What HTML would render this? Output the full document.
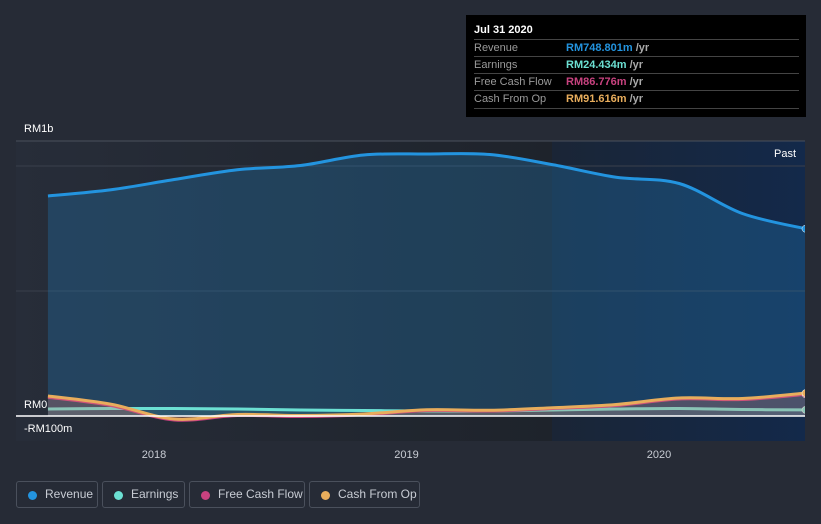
<!DOCTYPE html>
<html><head><meta charset="utf-8">
<style>
body{margin:0;background:#262b36;font-family:"Liberation Sans",sans-serif;}
#wrap{position:relative;width:821px;height:524px;overflow:hidden;background:#262b36;}
.lg{position:absolute;top:481px;height:27px;border:1px solid #4a505c;border-radius:3px;box-sizing:border-box;color:#c8ccd4;font-size:12px;line-height:25px;padding-left:28px;white-space:nowrap;}
.lg i{position:absolute;left:11px;top:9px;width:9px;height:9px;border-radius:50%;}
#tip{position:absolute;left:466px;top:15px;width:340px;height:102px;background:#000;color:#fff;font-size:11px;}
#tip .r{position:absolute;left:8px;width:325px;height:17px;border-top:1px solid #444;line-height:17px;color:#9a9a9a;}
#tip .r b{position:absolute;left:92px;font-weight:bold;}
#tip .r span{color:#aaa;}
</style></head><body>
<div id="wrap">
<svg id="svg" width="821" height="524" style="position:absolute;left:0;top:0">
<defs>
<linearGradient id="bgL" x1="0" x2="1" y1="0" y2="0"><stop offset="0" stop-color="#272d39"/><stop offset="1" stop-color="#1e232b"/></linearGradient>
<linearGradient id="bgR" x1="0" x2="1" y1="0" y2="0"><stop offset="0" stop-color="#1a2536"/><stop offset="1" stop-color="#13294a"/></linearGradient>
<clipPath id="clip"><rect x="16" y="130" width="789" height="320"/></clipPath>
</defs>
<rect x="16" y="141" width="536" height="300" fill="url(#bgL)"/>
<rect x="552" y="141" width="253" height="300" fill="url(#bgR)"/>
<g id="grid"></g><g id="series" clip-path="url(#clip)"></g>
<text x="774" y="157" fill="#fff" font-size="11">Past</text>
</svg>
<div id="tip">
<div style="position:absolute;left:8px;top:9px;font-weight:bold;font-size:11px">Jul 31 2020</div>
<div class="r" style="top:24px">Revenue<b style="color:#2394df">RM748.801m <span>/yr</span></b></div>
<div class="r" style="top:41px">Earnings<b style="color:#6ce0d3">RM24.434m <span>/yr</span></b></div>
<div class="r" style="top:58px">Free Cash Flow<b style="color:#c8427f">RM86.776m <span>/yr</span></b></div>
<div class="r" style="top:75px;border-bottom:1px solid #444">Cash From Op<b style="color:#e8ad5c">RM91.616m <span>/yr</span></b></div>
</div>
<div class="lg" style="left:16px;width:82px"><i style="background:#2394df"></i>Revenue</div>
<div class="lg" style="left:102px;width:83px"><i style="background:#6ce0d3"></i>Earnings</div>
<div class="lg" style="left:189px;width:116px"><i style="background:#c8427f"></i>Free Cash Flow</div>
<div class="lg" style="left:309px;width:111px"><i style="background:#e8ad5c"></i>Cash From Op</div>
</div>
<script>
const dates=[2017.58,2017.83,2018.08,2018.33,2018.58,2018.83,2019.08,2019.33,2019.58,2019.83,2020.08,2020.33,2020.58];
const revenue=[880,905,946,985,1002,1044,1048,1046,1005,955,930,810,749];
const earnings=[28,30,30,28,24,22,20,20,24,28,30,26,24.4];
const fcf=[75,42,-16,2,-2,5,22,20,30,42,68,66,86.8];
const cfo=[80,47,-12,6,2,8,25,23,33,46,72,70,91.6];
const yTicks=[{v:1000,l:"RM1b"},{v:0,l:"RM0"},{v:-100,l:"-RM100m"}];
const xTicks=[2018,2019,2020];
const X=d=>154+(d-2018)*252.5;
const Y=v=>416-v*0.25;
const NS="http://www.w3.org/2000/svg";
function mk(t,a,p){const e=document.createElementNS(NS,t);for(const k in a)e.setAttribute(k,a[k]);p.appendChild(e);return e;}
const g=document.getElementById('grid'),s=document.getElementById('series');
let l=mk('line',{x1:16,x2:805,y1:141,y2:141,stroke:'#4a505c'},g);


[500,1000].forEach(v=>{const e=mk('line',{x1:16,x2:805,y1:Y(v),y2:Y(v),stroke:'#3a404c'},g);

});
yTicks.forEach(t=>{const ty=t.v===1000?Y(1100)-9:(t.v===0?Y(0)-8:Y(-100)-9);const e=mk('text',{x:24,y:ty,fill:'#fff','font-size':11},g);e.textContent=t.l;

});
xTicks.forEach(t=>{const e=mk('text',{x:X(t),y:458,fill:'#c8ccd4','font-size':11,'text-anchor':'middle'},g);e.textContent=t;

});
function path(vals){const p=vals.map((v,i)=>[X(dates[i]),Y(v)]);let d='M'+p[0][0]+','+p[0][1];
for(let i=1;i<p.length;i++){const p0=p[Math.max(0,i-2)],p1=p[i-1],p2=p[i],p3=p[Math.min(p.length-1,i+1)];
const c1=[p1[0]+(p2[0]-p0[0])/6,p1[1]+(p2[1]-p0[1])/6],c2=[p2[0]-(p3[0]-p1[0])/6,p2[1]-(p3[1]-p1[1])/6];
d+=' C'+c1+' '+c2+' '+p2;}return d;}
function series(vals,col,fill,name){const d=path(vals);const x0=X(dates[0]),x1=X(dates[dates.length-1]);
const a=mk('path',{d:d+' L'+x1+','+Y(0)+' L'+x0+','+Y(0)+'Z',fill:fill},s);


const ln=mk('path',{d:d,fill:'none',stroke:col,'stroke-width':3},s);


const c=mk('circle',{cx:x1,cy:Y(vals[vals.length-1]),r:3.5,fill:col,stroke:'#fff','stroke-width':0.5},s);

}
series(revenue,'#2394df','rgba(35,120,180,0.32)','revenue');
series(earnings,'#6ce0d3','rgba(108,224,211,0.12)','earnings');
series(fcf,'#c8427f','rgba(200,66,127,0.15)','free-cash-flow');
series(cfo,'#e8ad5c','rgba(232,173,92,0.15)','cash-from-op');
const z=mk('line',{x1:16,x2:805,y1:Y(0),y2:Y(0),stroke:'#fff','stroke-width':1.5},s);


</script>
</body></html>
